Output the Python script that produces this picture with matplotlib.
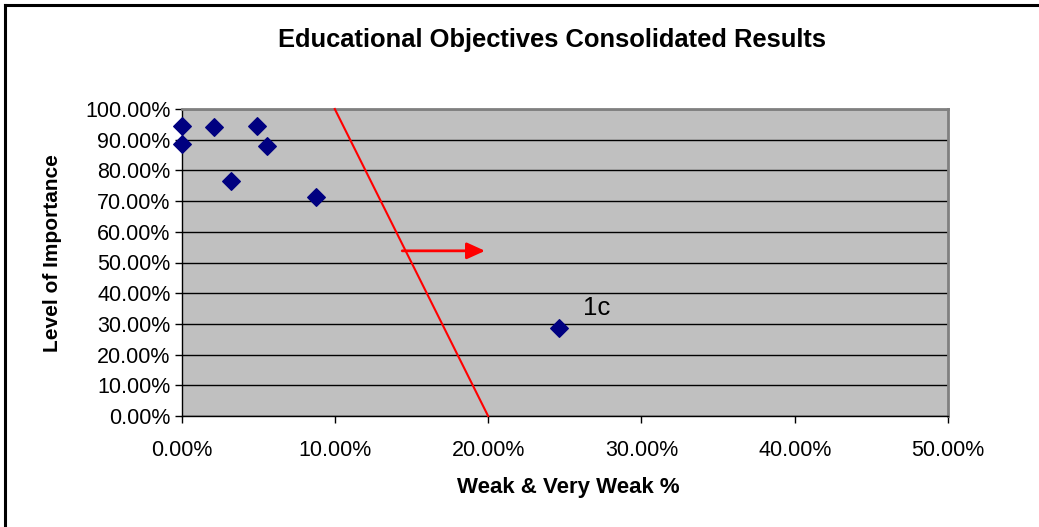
import matplotlib
matplotlib.use("Agg")
import matplotlib.pyplot as plt
from matplotlib.lines import Line2D
from matplotlib.ticker import FuncFormatter, MultipleLocator

plt.rcParams['font.family'] = ['Liberation Sans', 'DejaVu Sans']

# Weak & very weak share vs. level of importance, per objective (percent)
weak_pct = [0.0, 0.0, 2.15, 3.2, 4.9, 5.6, 8.8, 24.6]
importance_pct = [94.3, 88.5, 94.2, 76.4, 94.4, 88.0, 71.4, 28.6]

# Threshold line and arrow (percent)
threshold_x = [10.0, 20.0]
threshold_y = [100.0, 0.0]
arrow_start = (14.4, 53.8)
arrow_end = (19.8, 53.8)

label_text = "1c"
label_pos = (27.1, 35.1)

W, H = 1039, 527
fig = plt.figure(figsize=(W / 100, H / 100), dpi=100)
ax = fig.add_axes([181.5 / W, 1 - 416 / H, (948 - 181.5) / W, (416 - 109) / H])

ax.set_facecolor('#C0C0C0')
ax.set_xlim(0, 50)
ax.set_ylim(0, 100)

ax.yaxis.set_major_locator(MultipleLocator(10))
ax.xaxis.set_major_locator(MultipleLocator(10))
pct = FuncFormatter(lambda v, _: f"{v:.2f}%")
ax.xaxis.set_major_formatter(pct)
ax.yaxis.set_major_formatter(pct)

ax.grid(axis='y', color='black', linewidth=1.0)
ax.set_axisbelow(True)

for side in ('top', 'right'):
    ax.spines[side].set_color('#808080')
    ax.spines[side].set_linewidth(2)
for side in ('left', 'bottom'):
    ax.spines[side].set_color('black')
    ax.spines[side].set_linewidth(1)

ax.tick_params(axis='both', direction='out', length=5, width=1, labelsize=15.5,
               colors='black')
ax.tick_params(axis='x', pad=12)
ax.tick_params(axis='y', pad=3)

ax.plot(threshold_x, threshold_y, color='red', linewidth=1.5, clip_on=False, zorder=3)
ax.annotate('', xy=arrow_end, xytext=arrow_start,
            arrowprops=dict(arrowstyle='-|>,head_length=1.1,head_width=0.5',
                            color='red', lw=2, shrinkA=0, shrinkB=0), zorder=4)

ax.scatter(weak_pct, importance_pct, marker='D', s=80, color='#000080',
           edgecolors='#000080', zorder=5, clip_on=False)

ax.text(label_pos[0], label_pos[1], label_text, fontsize=18.5, ha='center', va='center')

fig.text(552.5 / W, 1 - 40 / H, 'Educational Objectives Consolidated Results',
         fontsize=18.4, fontweight='bold', ha='center', va='center')

ax.set_xlabel('Weak & Very Weak %', fontsize=16, fontweight='bold')
ax.xaxis.label.set_va('center')
ax.xaxis.set_label_coords((568 - 181.5) / 766.5, (416 - 487) / 307)

ax.set_ylabel('Level of Importance', fontsize=15, fontweight='bold')
ax.yaxis.label.set_va('center')
ax.yaxis.label.set_ha('center')
ax.yaxis.set_label_coords((53 - 181.5) / 766.5, (416 - 253) / 307)

# Chart frame along the left and top edges
fig.add_artist(Line2D([4.5 / W, 4.5 / W], [0, 1 - 4.5 / H],
                      transform=fig.transFigure, color='black', linewidth=2.2))
fig.add_artist(Line2D([4.5 / W, 1], [1 - 4.5 / H, 1 - 4.5 / H],
                      transform=fig.transFigure, color='black', linewidth=2.2))

fig.savefig('out.png', dpi=100)
